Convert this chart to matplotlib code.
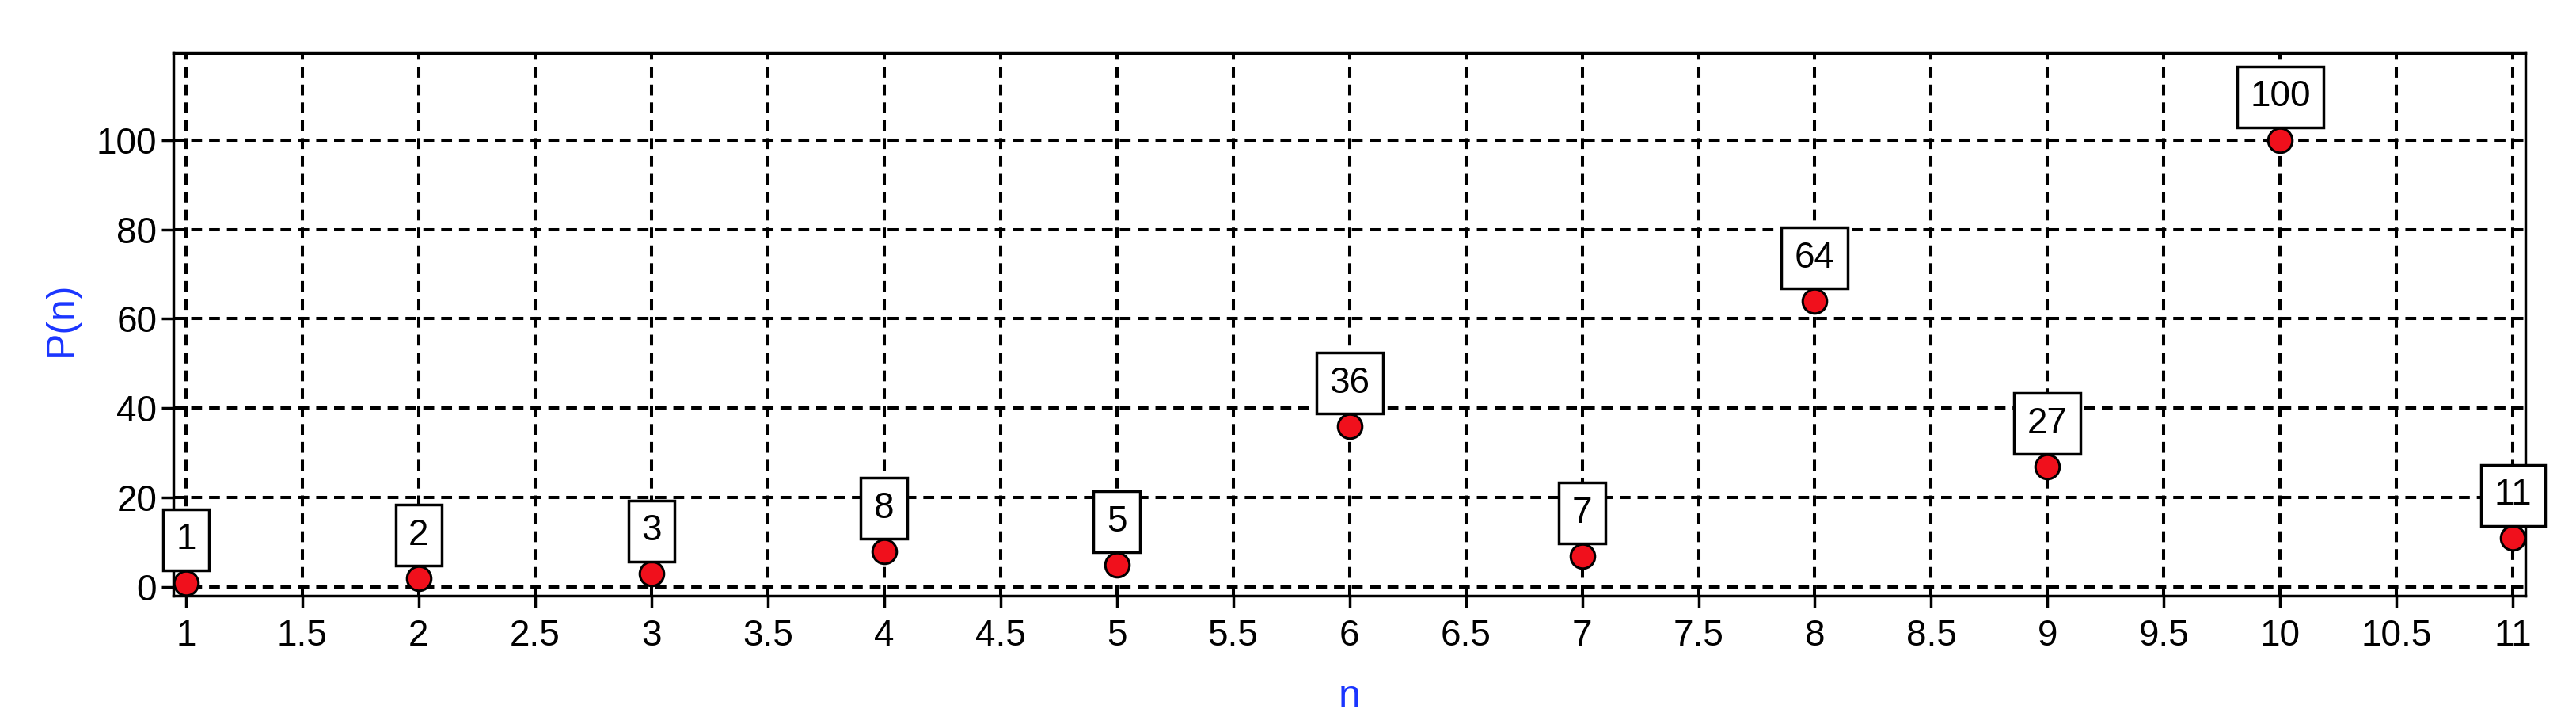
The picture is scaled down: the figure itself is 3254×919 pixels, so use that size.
import matplotlib
matplotlib.use("Agg")
import matplotlib.pyplot as plt

plt.rcParams['font.family'] = ['Liberation Sans', 'DejaVu Sans']

n_values = [1, 2, 3, 4, 5, 6, 7, 8, 9, 10, 11]
p_values = [1, 2, 3, 8, 5, 36, 7, 64, 27, 100, 11]
x_ticks = [1, 1.5, 2, 2.5, 3, 3.5, 4, 4.5, 5, 5.5, 6, 6.5, 7, 7.5, 8, 8.5, 9, 9.5, 10, 10.5, 11]
x_tick_labels = ["1", "1.5", "2", "2.5", "3", "3.5", "4", "4.5", "5", "5.5", "6",
                 "6.5", "7", "7.5", "8", "8.5", "9", "9.5", "10", "10.5", "11"]
y_ticks = [0, 20, 40, 60, 80, 100]


def main():
	fig = plt.figure(figsize=(32.54, 9.19), dpi=100)
	ax = fig.add_axes([0.0673, 0.1817, 0.9130, 0.7454])

	fsize = 33
	blue = "#1a35ff"

	ax.plot(n_values, p_values, linestyle="none", marker="o", markersize=22,
	        markerfacecolor="#f0101c", markeredgecolor="black", markeredgewidth=2.2,
	        zorder=4)

	# boxed value labels above each point
	for x, y in zip(n_values, p_values):
		ax.annotate(str(y), (x, y), xytext=(0, 39), textcoords="offset points",
		            ha="center", va="center", fontsize=fsize, color="black",
		            bbox=dict(boxstyle="square,pad=0.36", facecolor="white",
		                      edgecolor="black", linewidth=2.5),
		            annotation_clip=False, zorder=5)

	ax.set_xlim(0.946, 11.053)
	ax.set_ylim(-1.9, 119.4)
	ax.set_xticks(x_ticks)
	ax.set_xticklabels(x_tick_labels)
	ax.set_yticks(y_ticks)

	ax.grid(True, color="black", linestyle=(0, (3.4, 2.2)), linewidth=2.9, zorder=1)
	ax.set_axisbelow(True)

	for sp in ax.spines.values():
		sp.set_linewidth(2.5)

	ax.tick_params(axis="both", direction="out", length=11, width=2.5,
	               labelsize=fsize, colors="black")
	ax.tick_params(axis="x", pad=10)
	ax.tick_params(axis="y", pad=4)

	ax.set_xlabel("n", fontsize=36, color=blue)
	ax.xaxis.label.set_va("baseline")
	ax.xaxis.set_label_coords(0.5, -0.206)

	ax.set_ylabel("P(n)", fontsize=36, color=blue)
	ax.yaxis.set_label_coords(-0.0397, 0.51)

	fig.savefig("out.png", dpi=100)


if __name__ == "__main__":
	main()
